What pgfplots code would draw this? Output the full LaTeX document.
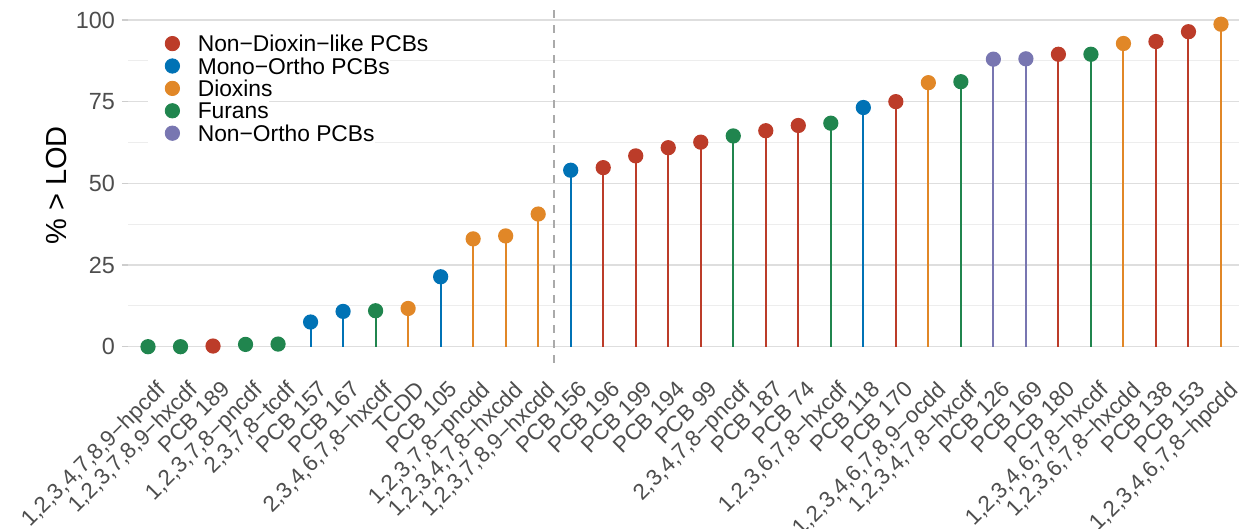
\documentclass[border=0pt]{standalone}
\usepackage{pgfplots}
\pgfplotsset{compat=1.18}
\usepackage{fontspec}
\setmainfont{Liberation Sans}
\definecolor{cred}{HTML}{BC3C29}
\definecolor{cblue}{HTML}{0072B5}
\definecolor{corange}{HTML}{E18727}
\definecolor{cgreen}{HTML}{20854E}
\definecolor{cpurple}{HTML}{7876B1}
\definecolor{tickgrey}{HTML}{4D4D4D}
\definecolor{majgrid}{HTML}{DEDEDE}
\definecolor{mingrid}{HTML}{EDEDED}
\definecolor{vgrey}{HTML}{AAAAAA}
\begin{document}
\begin{tikzpicture}
\begin{axis}[
  scale only axis, width=556pt, height=177.3pt,
  xmin=0.4, xmax=34.6, ymin=-4.93, ymax=103.6,
  axis line style={draw=none},
  xtick={1,...,34},
  xticklabels={{1,2,3,4,7,8,9−hpcdf},{1,2,3,7,8,9−hxcdf},PCB 189,{1,2,3,7,8−pncdf},{2,3,7,8−tcdf},PCB 157,PCB 167,{2,3,4,6,7,8−hxcdf},TCDD,PCB 105,{1,2,3,7,8−pncdd},{1,2,3,4,7,8−hxcdd},{1,2,3,7,8,9−hxcdd},PCB 156,PCB 196,PCB 199,PCB 194,PCB 99,{2,3,4,7,8−pncdf},PCB 187,PCB 74,{1,2,3,6,7,8−hxcdf},PCB 118,PCB 170,{1,2,3,4,6,7,8,9−ocdd},{1,2,3,4,7,8−hxcdf},PCB 126,PCB 169,PCB 180,{1,2,3,4,6,7,8−hxcdf},{1,2,3,6,7,8−hxcdd},PCB 138,PCB 153,{1,2,3,4,6,7,8−hpcdd}},
  ytick={0,25,50,75,100},
  minor ytick={12.5,37.5,62.5,87.5},
  ymajorgrids, yminorgrids,
  major grid style={majgrid, line width=0.75pt},
  minor grid style={mingrid, line width=0.5pt},
  xtick style={draw=none},
  ytick style={color={rgb,255:red,205;green,205;blue,205}, line width=0.75pt},
  minor tick length=0pt,
  major tick length=3.3pt,
  tick align=outside, ytick pos=left, xtick pos=bottom,
  /pgf/number format/assume math mode=true,
  yticklabel style={font=\fontsize{11.7}{13}\selectfont, text=tickgrey, anchor=east, inner sep=0pt, xshift=-3.3pt},
  xticklabel style={font=\fontsize{11.2}{13}\selectfont, text=tickgrey, inner sep=0pt, xshift=3.5pt, yshift=-5pt, rotate=45, anchor=north east},
  ylabel={\% > LOD},
  ylabel style={font=\fontsize{14.5}{16}\selectfont, text=black, at={(axis description cs:-0.0643,0.5)}, anchor=center},
  legend image code/.code={\fill[white] (-12pt,-5.4pt) rectangle (12.5pt,5.4pt); \fill[#1] (0pt,0pt) circle (3.6pt);},
  legend style={at={(axis description cs:0,1)}, anchor=north west, xshift=9.75pt, yshift=-12.1pt, inner sep=0pt, outer sep=0pt, draw=none, fill=none, row sep=0pt, column sep=0pt, font=\fontsize{11.4}{12}\selectfont, nodes={inner sep=0pt, text height=9.5pt, text depth=1.3pt, fill=white}},
  legend cell align=left,
]
\addlegendimage{cred}\addlegendentry{Non−Dioxin−like PCBs}
\addlegendimage{cblue}\addlegendentry{Mono−Ortho PCBs}
\addlegendimage{corange}\addlegendentry{Dioxins}
\addlegendimage{cgreen}\addlegendentry{Furans}
\addlegendimage{cpurple}\addlegendentry{Non−Ortho PCBs}

\addplot[forget plot, vgrey, line width=1pt, dash pattern=on 4pt off 3.5pt] coordinates {(13.5,-4.93) (13.5,103.6)};

\addplot[forget plot, cred, ycomb, line width=1pt, mark=*, mark size=3.3pt, mark options={solid, fill=cred, draw=none}] coordinates {
(3,0.2) (15,54.8) (16,58.4) (17,60.9) (18,62.6) (20,66.1) (21,67.7) (24,75.0) (29,89.5) (32,93.4) (33,96.4)};
\addplot[forget plot, cblue, ycomb, line width=1pt, mark=*, mark size=3.3pt, mark options={solid, fill=cblue, draw=none}] coordinates {
(6,7.55) (7,10.8) (10,21.4) (14,54.0) (23,73.2)};
\addplot[forget plot, corange, ycomb, line width=1pt, mark=*, mark size=3.3pt, mark options={solid, fill=corange, draw=none}] coordinates {
(9,11.7) (11,33.0) (12,33.9) (13,40.6) (25,80.8) (31,92.8) (34,98.7)};
\addplot[forget plot, cgreen, ycomb, line width=1pt, mark=*, mark size=3.3pt, mark options={solid, fill=cgreen, draw=none}] coordinates {
(1,0) (2,0) (4,0.7) (5,0.8) (8,11.0) (19,64.5) (22,68.4) (26,81.1) (30,89.5)};
\addplot[forget plot, cpurple, ycomb, line width=1pt, mark=*, mark size=3.3pt, mark options={solid, fill=cpurple, draw=none}] coordinates {
(27,88.0) (28,88.1)};
\end{axis}
\pgfresetboundingbox
\useasboundingbox (-64.25pt,-83.1pt) rectangle (555.25pt,181.4pt);
\end{tikzpicture}
\end{document}
